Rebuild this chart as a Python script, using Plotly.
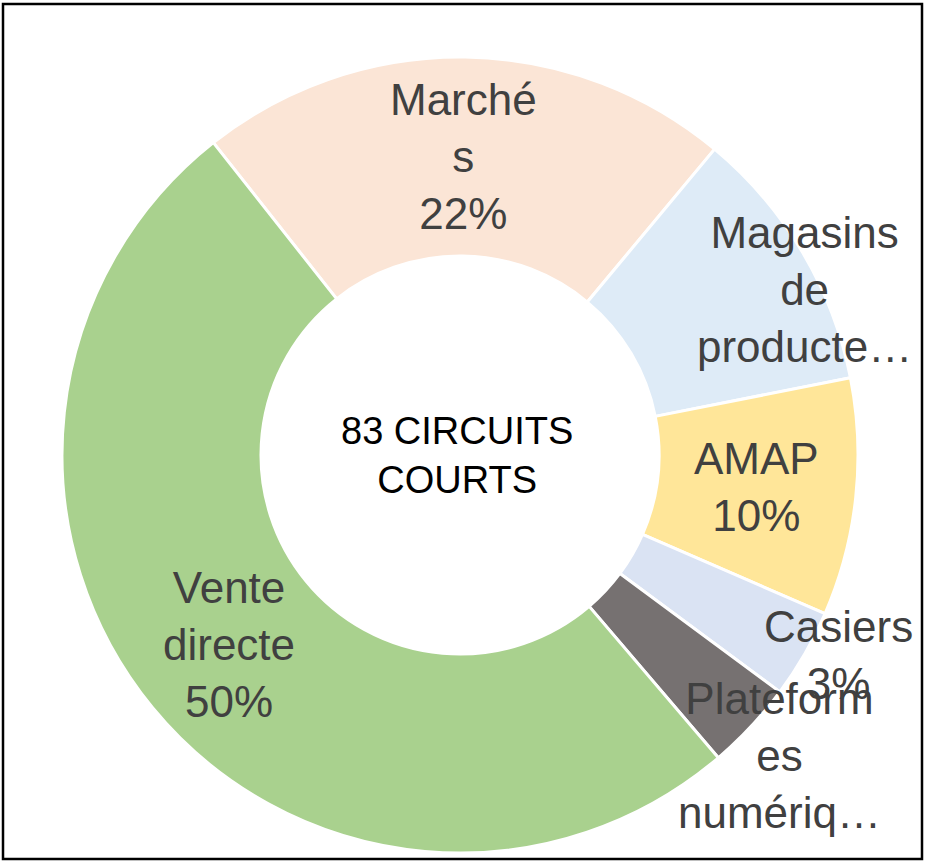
import math
import plotly.graph_objects as go

# ---- data ----
categories = ["Marchés", "Magasins de producteurs", "AMAP", "Casiers",
              "Plateformes numériques", "Vente directe"]
counts = [18, 9, 8, 3, 3, 42]
label_texts = ["Marché<br>s<br>22%", "Magasins<br>de<br>producte…", "AMAP<br>10%",
               "Casiers<br>3%", "Plateform<br>es<br>numériq…", "Vente<br>directe<br>50%"]
center_text = "83 CIRCUITS<br>COURTS"

# ---- styles ----
colors = ["#FBE5D6", "#DEEBF7", "#FFE699", "#DAE3F3", "#767171", "#A9D18E"]
W, H = 926, 864
L, T, SIZE = 62, 57, 796
R_OUT = SIZE / 2
CX, CY = L + SIZE / 2, T + SIZE / 2
ROT = -38.3
# pixel nudges of labels that Excel moved away from the slice centre
nudges = [(0, 0), (88, -13), (0, 0), (120, 51), (101, 97), (0, 0)]

fig = go.Figure(go.Pie(
    labels=categories,
    values=counts,
    hole=0.5,
    sort=False,
    direction="clockwise",
    rotation=ROT,
    textinfo="none",
    marker=dict(colors=colors, line=dict(color="white", width=3)),
    showlegend=False,
    hoverinfo="label+value+percent",
))

def to_paper(px, py):
    return (px - L) / SIZE, 1 - (py - T) / SIZE

total = sum(counts)
cum = 0
annotations = []
for v, txt, (nx, ny) in zip(counts, label_texts, nudges):
    mid = math.radians(ROT + 360 * (cum + v / 2) / total)
    cum += v
    r = R_OUT * 0.75
    px = CX + r * math.sin(mid) + nx
    py = CY - r * math.cos(mid) + ny
    x, y = to_paper(px, py)
    annotations.append(dict(x=x, y=y, xref="paper", yref="paper", text=txt,
                            showarrow=False, xanchor="center", yanchor="middle",
                            font=dict(family="Liberation Sans, Arial, sans-serif",
                                      size=44, color="#404040")))

x, y = to_paper(457, 455)
annotations.append(dict(x=x, y=y, xref="paper", yref="paper", text=center_text,
                        showarrow=False, xanchor="center", yanchor="middle",
                        font=dict(family="Liberation Sans, Arial, sans-serif",
                                  size=38, color="#000000")))

x0, y0 = to_paper(3, 4)
x1, y1 = to_paper(922, 859)
fig.update_layout(
    width=W, height=H,
    margin=dict(l=L, r=W - L - SIZE, t=T, b=H - T - SIZE, pad=0),
    paper_bgcolor="white", plot_bgcolor="white",
    annotations=annotations,
    shapes=[dict(type="rect", xref="paper", yref="paper", x0=x0, y0=y1, x1=x1, y1=y0,
                 line=dict(color="black", width=2.5), fillcolor="rgba(0,0,0,0)")],
)

fig.write_html("out.html", config={"displayModeBar": False},
               post_script="document.body.style.margin='0';document.body.style.overflow='hidden';")
